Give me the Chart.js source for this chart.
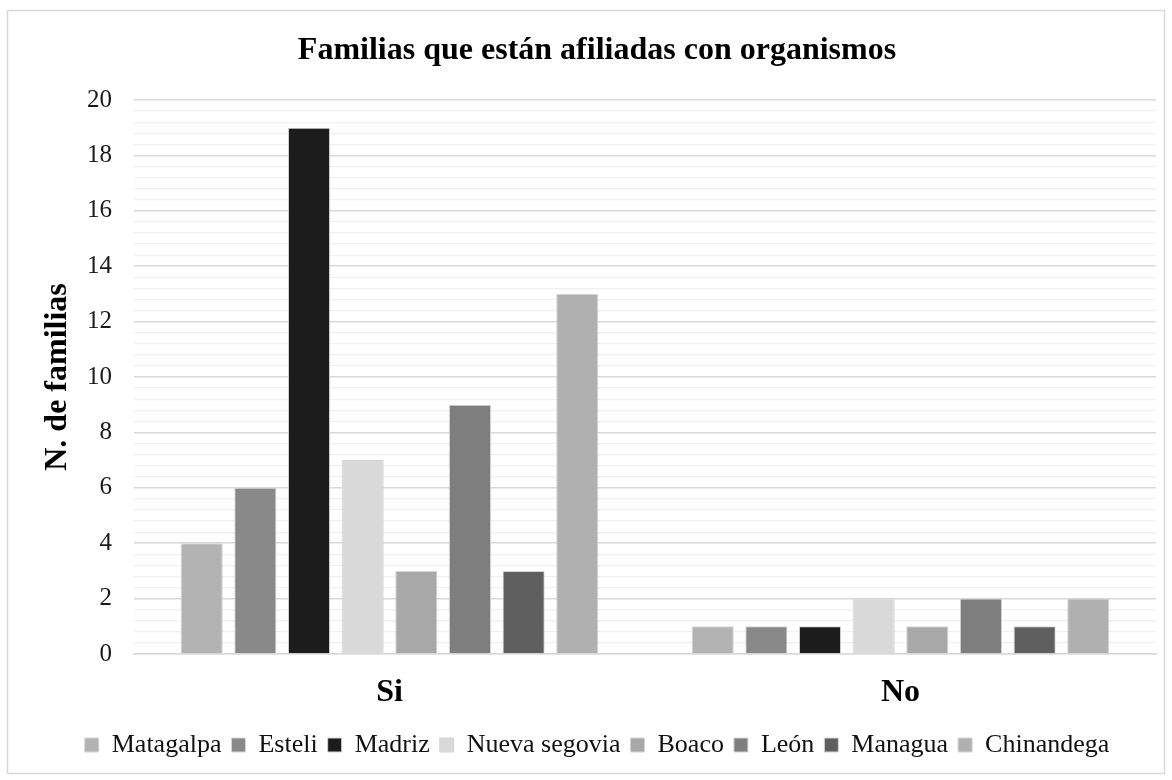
<!DOCTYPE html>
<html>
<head>
<meta charset="utf-8">
<script src="https://cdn.jsdelivr.net/npm/chart.js@4.4.0/dist/chart.umd.min.js"></script>
<style>
  html, body { margin: 0; padding: 0; background: #fff; }
  #wrap { position: relative; width: 1172px; height: 780px; }
</style>
</head>
<body>
<div id="wrap"><canvas id="chart" width="1172" height="780"></canvas></div>
<script>
// data
var categories = ["Si", "No"];
var regions = ["Matagalpa", "Esteli", "Madriz", "Nueva segovia", "Boaco", "León", "Managua", "Chinandega"];
var siValues = [4, 6, 19, 7, 3, 9, 3, 13];
var noValues = [1, 1, 1, 2, 1, 2, 1, 2];
var regionColors = ["#b3b3b3", "#898989", "#1c1c1c", "#d9d9d9", "#a8a8a8", "#7e7e7e", "#5f5f5f", "#b0b0b0"];
var yTicks = [0, 2, 4, 6, 8, 10, 12, 14, 16, 18, 20];

var serif = "'Liberation Serif', 'Times New Roman', serif";

var datasets = regions.map(function (name, i) {
  return {
    label: name,
    data: [siValues[i], noValues[i]],
    backgroundColor: regionColors[i],
    borderColor: "#d4d4d4",
    borderWidth: 1,
    barPercentage: 0.785,
    categoryPercentage: 0.84,
  };
});

function isMajor(v) {
  return Math.abs(v / 2 - Math.round(v / 2)) < 1e-6;
}

// outer frame round the whole chart
var framePlugin = {
  id: "frame",
  beforeDraw: function (chart) {
    var c = chart.ctx;
    c.save();
    c.fillStyle = "#fff";
    c.fillRect(0, 0, chart.width, chart.height);
    c.strokeStyle = "#d9d9d9";
    c.lineWidth = 1.5;
    c.strokeRect(7.5, 10.5, 1157, 763);
    c.restore();
  },
};

new Chart(document.getElementById("chart").getContext("2d"), {
  type: "bar",
  data: { labels: categories, datasets: datasets },
  plugins: [framePlugin],
  options: {
    responsive: false,
    animation: false,
    layout: { padding: { left: 38, right: 16, top: 10, bottom: 12 } },
    plugins: {
      title: {
        display: true,
        text: "Familias que están afiliadas con organismos",
        color: "#000",
        font: { family: serif, size: 32, weight: "bold" },
        padding: { top: 22, bottom: 29.6 },
      },
      legend: {
        position: "bottom",
        labels: {
          color: "#111",
          boxWidth: 14,
          boxHeight: 14,
          padding: 10,
          font: { family: serif, size: 26 },
        },
      },
      tooltip: { enabled: false },
    },
    scales: {
      x: {
        afterFit: function (scale) { scale.height = 68; },
        grid: { display: false, drawTicks: false },
        border: { display: true, color: "#d9d9d9", width: 1.5 },
        ticks: {
          color: "#000",
          padding: 20,
          font: { family: serif, size: 32, weight: "bold" },
        },
      },
      y: {
        min: 0,
        max: 20,
        afterFit: function (scale) { scale.width = 96; },
        border: { display: false },
        grid: {
          drawTicks: false,
          color: function (ctx) {
            return isMajor(ctx.tick.value) ? "#d9d9d9" : "#f0f0f0";
          },
          lineWidth: function (ctx) {
            return isMajor(ctx.tick.value) ? 1.5 : 1.2;
          },
        },
        ticks: {
          stepSize: 0.4,
          autoSkip: false,
          padding: 22,
          color: "#1a1a1a",
          font: { family: serif, size: 25 },
          callback: function (v) {
            var r = Math.round(v);
            return isMajor(v) && yTicks.indexOf(r) >= 0 ? String(r) : "";
          },
        },
        title: {
          display: true,
          text: "N. de familias",
          color: "#000",
          padding: { top: 1, bottom: 0 },
          font: { family: serif, size: 32, weight: "bold" },
        },
      },
    },
  },
});
</script>
</body>
</html>
